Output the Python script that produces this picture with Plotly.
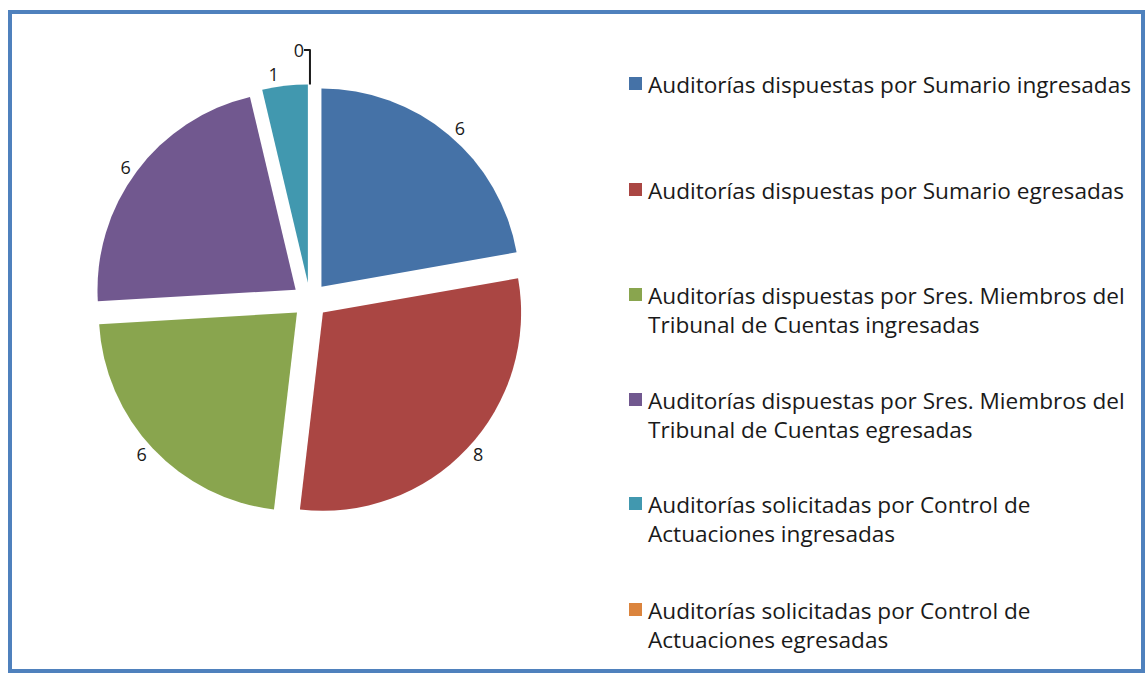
import textwrap
import plotly.graph_objects as go

labels = [
    "Auditorías dispuestas por Sumario ingresadas",
    "Auditorías dispuestas por Sumario egresadas",
    "Auditorías dispuestas por Sres. Miembros del Tribunal de Cuentas ingresadas",
    "Auditorías dispuestas por Sres. Miembros del Tribunal de Cuentas egresadas",
    "Auditorías solicitadas por Control de Actuaciones ingresadas",
    "Auditorías solicitadas por Control de Actuaciones egresadas",
]
values = [6, 8, 6, 6, 1, 0]
colors = ["#4572A7", "#AA4643", "#89A54E", "#71588F", "#4198AF", "#DB843D"]

W, H = 1148, 675
FONT = "Open Sans"

fig = go.Figure()
fig.add_trace(go.Pie(
    labels=labels,
    values=values,
    sort=False,
    direction="clockwise",
    rotation=0,
    pull=[0.09] * len(values),
    marker=dict(colors=colors, line=dict(color="white", width=0)),
    textinfo="value",
    textposition="outside",
    textfont=dict(family=FONT, size=18, color="#1a1a1a"),
    domain=dict(x=[0.061, 0.479], y=[0.235, 0.875]),
    automargin=False,
    showlegend=False,
    hoverinfo="label+value",
))

# Legend drawn as swatches + text
legend_centers = [83, 189, 294, 399, 503, 609]  # pixel centers of first line
ann = []
shapes = []
for lab, col, yc in zip(labels, colors, legend_centers):
    wrapped = "<br>".join(textwrap.wrap(lab, 45))
    ann.append(dict(
        x=646 / W, y=1 - (yc - 16) / H, xref="paper", yref="paper",
        xanchor="left", yanchor="top", align="left", showarrow=False,
        text=wrapped, font=dict(family=FONT, size=22.6, color="#1a1a1a"),
    ))
    shapes.append(dict(
        type="rect", xref="paper", yref="paper",
        x0=629 / W, x1=642 / W, y0=1 - (yc + 7) / H, y1=1 - (yc - 6) / H,
        fillcolor=col, line=dict(width=0),
    ))

# outer frame
shapes.append(dict(
    type="rect", xref="paper", yref="paper",
    x0=10 / W, x1=1143 / W, y0=1 - 671 / H, y1=1 - 12 / H,
    line=dict(color="#4F81BD", width=4), fillcolor="rgba(0,0,0,0)", layer="below",
))

fig.update_layout(
    width=W, height=H, autosize=False,
    margin=dict(l=0, r=0, t=0, b=0, pad=0, autoexpand=False),
    paper_bgcolor="white",
    plot_bgcolor="white",
    annotations=ann,
    shapes=shapes,
)

fig.write_html(
    "out.html",
    config={"displayModeBar": False},
    post_script="document.body.style.margin='0';",
)
